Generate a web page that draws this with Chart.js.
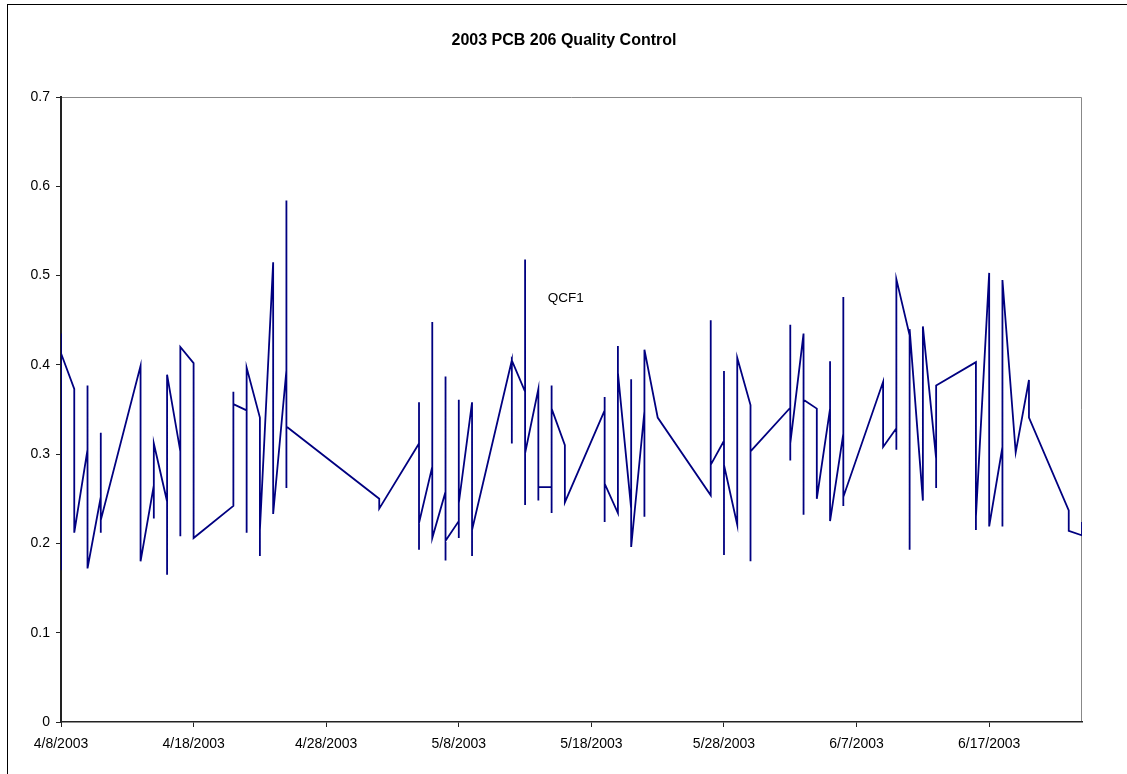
<!DOCTYPE html>
<html>
<head>
<meta charset="utf-8">
<title>2003 PCB 206 Quality Control</title>
<script src="https://cdn.jsdelivr.net/npm/chart.js@4.4.0/dist/chart.umd.min.js"></script>
<style>
  html, body { margin: 0; padding: 0; background: #fff; overflow: hidden; }
  #wrap { position: relative; width: 1127px; height: 774px; }
</style>
</head>
<body>
<div id="wrap"><canvas id="qcChart" width="1127" height="774"></canvas></div>
<script>
// 2003 PCB 206 quality control - QCF1 series, days counted from 4/8/2003
const chartTitle = '2003 PCB 206 Quality Control';
const seriesName = 'QCF1';

// several samples per day, in the order they were plotted
const sampleDays = [
  0, 0, 0,
  1, 1, 1, 1,
  2, 2, 2,
  3, 3, 3, 3,
  6, 6, 6, 6,
  7, 7, 7,
  8, 8, 8,
  9, 9, 9,
  10, 10, 10, 10,
  13, 13, 13,
  14, 14, 14,
  15, 15, 15,
  16, 16,
  17, 17, 17, 17,
  24, 24,
  27, 27, 27, 27,
  28, 28, 28,
  29, 29, 29, 29,
  30, 30, 30, 30,
  31, 31, 31,
  34, 34, 34,
  35, 35, 35, 35,
  36, 36, 36,
  37, 37, 37, 37,
  38, 38,
  41, 41, 41, 41,
  42, 42, 42,
  43, 43, 43,
  44, 44, 44,
  45,
  49, 49, 49,
  50, 50, 50, 50,
  51, 51,
  52, 52, 52, 52,
  55, 55, 55, 55,
  56, 56, 56,
  57, 57,
  58, 58, 58,
  59, 59, 59, 59,
  62, 62,
  63, 63, 63,
  64, 64, 64,
  65, 65,
  66, 66, 66,
  69, 69, 69,
  70, 70,
  71, 71, 71,
  72,
  73, 73,
  76, 76,
  77, 77
];

const qcf1Values = [
  0.170, 0.435, 0.413,
  0.373, 0.265, 0.285, 0.212,
  0.305, 0.377, 0.172,
  0.252, 0.324, 0.212, 0.226,
  0.399, 0.290, 0.365, 0.180,
  0.265, 0.228, 0.312,
  0.247, 0.165, 0.389,
  0.303, 0.208, 0.420,
  0.402, 0.226, 0.290, 0.206,
  0.242, 0.370, 0.356,
  0.349, 0.212, 0.397,
  0.341, 0.186, 0.215,
  0.515, 0.233,
  0.394, 0.584, 0.262, 0.331,
  0.250, 0.239,
  0.312, 0.358, 0.193, 0.223,
  0.286, 0.448, 0.206,
  0.258, 0.387, 0.181, 0.203,
  0.225, 0.361, 0.206, 0.245,
  0.358, 0.186, 0.215,
  0.405, 0.312, 0.405,
  0.370, 0.518, 0.243, 0.301,
  0.373, 0.248, 0.263,
  0.263, 0.234, 0.377, 0.351,
  0.310, 0.246,
  0.349, 0.364, 0.224, 0.267,
  0.234, 0.421, 0.391,
  0.239, 0.384, 0.196,
  0.348, 0.230, 0.417,
  0.341,
  0.254, 0.450, 0.288,
  0.315, 0.393, 0.187, 0.288,
  0.221, 0.408,
  0.355, 0.180, 0.236, 0.303,
  0.352, 0.445, 0.293, 0.312,
  0.435, 0.232, 0.361,
  0.351, 0.250,
  0.351, 0.404, 0.225,
  0.323, 0.476, 0.242, 0.252,
  0.381, 0.308,
  0.329, 0.305, 0.496,
  0.433, 0.193, 0.440,
  0.248, 0.443,
  0.295, 0.262, 0.377,
  0.403, 0.215, 0.230,
  0.503, 0.219,
  0.308, 0.219, 0.495,
  0.302,
  0.383, 0.341,
  0.237, 0.214,
  0.209, 0.224
];

const xTickDays = [0, 10, 20, 30, 40, 50, 60, 70];
const xTickLabels = ['4/8/2003', '4/18/2003', '4/28/2003', '5/8/2003', '5/18/2003', '5/28/2003', '6/7/2003', '6/17/2003'];
const yTickValues = [0, 0.1, 0.2, 0.3, 0.4, 0.5, 0.6, 0.7];

const fontFamily = "'Liberation Sans', Arial, sans-serif";

const points = sampleDays.map((d, i) => ({ x: d, y: qcf1Values[i] }));

// frame, plot border, title and the series label
const decorPlugin = {
  id: 'decor',
  beforeDraw(chart) {
    const ctx = chart.ctx;
    const a = chart.chartArea;
    ctx.save();
    ctx.fillStyle = '#ffffff';
    ctx.fillRect(0, 0, chart.width, chart.height);
    ctx.strokeStyle = '#000000';
    ctx.lineWidth = 1;
    ctx.strokeRect(7.5, 4.5, chart.width + 20, chart.height + 20);
    ctx.strokeStyle = '#888888';
    ctx.beginPath();
    ctx.moveTo(a.left, a.top + 0.5);
    ctx.lineTo(a.right - 0.5, a.top + 0.5);
    ctx.lineTo(a.right - 0.5, a.bottom);
    ctx.stroke();
    ctx.restore();
  },
  afterDraw(chart) {
    const ctx = chart.ctx;
    const xs = chart.scales.x;
    const ys = chart.scales.y;
    ctx.save();
    ctx.fillStyle = '#000000';
    ctx.font = 'bold 16px ' + fontFamily;
    ctx.textAlign = 'center';
    ctx.textBaseline = 'middle';
    ctx.fillText(chartTitle, 564, 41);
    ctx.font = '13.5px ' + fontFamily;
    ctx.textAlign = 'left';
    ctx.fillText(seriesName, xs.getPixelForValue(36.7), ys.getPixelForValue(0.475));
    ctx.restore();
  }
};

const ctx = document.getElementById('qcChart').getContext('2d');
const chart = new Chart(ctx, {
  type: 'line',
  data: {
    datasets: [{
      label: seriesName,
      data: points,
      borderColor: '#000080',
      borderWidth: 1.8,
      pointRadius: 0,
      tension: 0,
      fill: false
    }]
  },
  options: {
    responsive: false,
    animation: false,
    devicePixelRatio: 1,
    layout: { padding: { top: 97, right: 45, left: 0, bottom: 0 } },
    plugins: {
      legend: { display: false },
      title: { display: false },
      tooltip: { enabled: false }
    },
    scales: {
      x: {
        type: 'linear',
        min: 0,
        max: 77,
        afterFit(scale) { scale.height = 52; },
        afterBuildTicks(scale) { scale.ticks = xTickDays.map(v => ({ value: v })); },
        grid: { drawOnChartArea: false, drawTicks: true, tickLength: 5, color: '#222222' },
        border: { display: true, color: '#222222', width: 1.5 },
        ticks: {
          padding: 9,
          maxRotation: 0,
          autoSkip: false,
          color: '#000000',
          font: { family: fontFamily, size: 14 },
          callback: (v) => xTickLabels[xTickDays.indexOf(v)]
        }
      },
      y: {
        min: 0,
        max: 0.7,
        afterFit(scale) { scale.width = 61; },
        afterBuildTicks(scale) { scale.ticks = yTickValues.map(v => ({ value: v })); },
        grid: { drawOnChartArea: false, drawTicks: true, tickLength: 5, color: '#222222' },
        border: { display: true, color: '#222222', width: 2 },
        ticks: {
          padding: 6,
          color: '#000000',
          font: { family: fontFamily, size: 14 },
          callback: (v) => String(Math.round(v * 10) / 10)
        }
      }
    }
  },
  plugins: [decorPlugin]
});
</script>
</body>
</html>
